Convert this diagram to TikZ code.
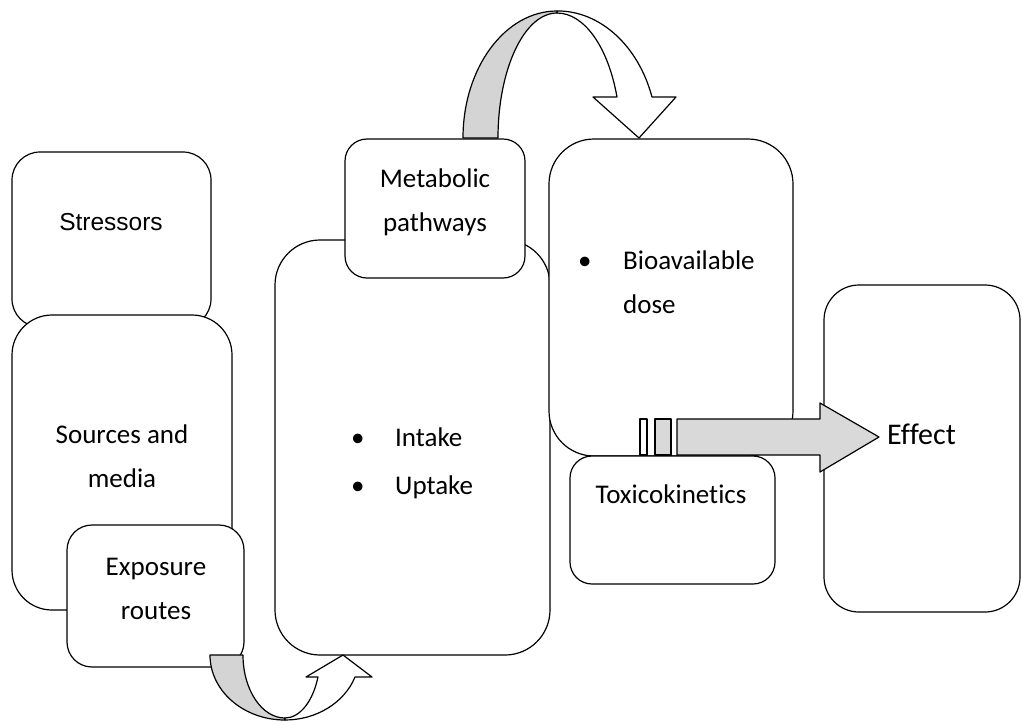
\documentclass[tikz,border=0pt]{standalone}
\usepackage{fontspec}
\setmainfont[Ligatures=NoCommon]{Carlito}
\newfontfamily\arialfont{Liberation Sans}
\usepackage{tikz}
\usetikzlibrary{positioning}
\definecolor{bandgray}{HTML}{D4D4D4}
\definecolor{shaftgray}{HTML}{D9D9D9}

\begin{document}
\begin{tikzpicture}[
  x=1pt, y=-1pt,
  font=\fontsize{27}{44}\selectfont,
  box/.style={draw, fill=white, line width=1.2pt, inner sep=0pt, outer sep=0pt},
  lbl/.style={inner sep=0pt, align=center},
  band/.style={draw, line width=1.2pt, line join=round},
]
  \useasboundingbox (0,0) rectangle (1022,724);

  % boxes, back to front
  \node[box, rounded corners=28pt, minimum width=199pt, minimum height=175pt] (stress) at (111.5,239.5) {};
  \node[box, rounded corners=40pt, minimum width=220pt, minimum height=295pt] (sources) at (122,462.5) {};
  \node[box, rounded corners=25pt, minimum width=177pt, minimum height=142pt] (expo) at (155.5,596) {};
  \node[box, rounded corners=45pt, minimum width=275pt, minimum height=415pt] (intake) at (412.5,447.5) {};
  \node[box, rounded corners=22pt, minimum width=180pt, minimum height=139pt] (metab) at (435,208.5) {};
  \node[box, rounded corners=45pt, minimum width=244pt, minimum height=317pt] (bio) at (671,297.5) {};
  \node[box, rounded corners=22pt, minimum width=205pt, minimum height=128pt] (toxi) at (672.5,520) {};
  \node[box, rounded corners=35pt, minimum width=196pt, minimum height=327pt] (effect) at (922,448.5) {};

  % labels
  \node[lbl, font=\arialfont\fontsize{24.5}{30}\selectfont] (stresstxt) at (111,222) {Stressors};
  \node[lbl] (sourcestxt) at (122,456) {Sources and\\media};
  \node[lbl] (expotxt) at (156,589) {Exposure\\routes};
  \node[lbl] (metabtxt) at (435,202) {Metabolic\\pathways};
  \node[lbl, align=left, anchor=west, font=\fontsize{27}{48}\selectfont] (intaketxt) at (351,463)
    {\makebox[44pt][l]{\textbullet}Intake\\\makebox[44pt][l]{\textbullet}Uptake};
  \node[lbl, align=left, anchor=west] (biotxt) at (578,282)
    {\makebox[45pt][l]{\textbullet}Bioavailable\\\hspace*{45pt}dose};
  \node[lbl] (toxitxt) at (671,494) {Toxicokinetics};
  \node[lbl, anchor=west, font=\fontsize{30}{36}\selectfont] (effecttxt) at (887,434) {Effect};

  % curved arrow: metabolic pathways -> bioavailable dose
  \draw[band, fill=white] (557,13) arc[start angle=270, end angle=340.85, x radius=63.5, y radius=125]
    -- (593,97) -- (639,138) -- (676,97) -- (652,97)
    arc[start angle=341.2, end angle=270, x radius=100, y radius=127] -- cycle;
  \draw[band, fill=bandgray] (463,138) arc[start angle=180, end angle=270, x radius=94, y radius=127]
    -- (557,13) arc[start angle=270, end angle=180, x radius=59, y radius=125] -- cycle;

  % curved arrow: exposure routes -> intake
  \draw[band, fill=bandgray] (210,655) arc[start angle=180, end angle=90, x radius=75, y radius=65]
    -- (285,718) arc[start angle=90, end angle=180, x radius=42, y radius=63] -- cycle;
  \draw[band, fill=white] (285,718) arc[start angle=90, end angle=20.4, x radius=35.2, y radius=63]
    -- (306,677) -- (343,655) -- (372,677) -- (355,677)
    arc[start angle=19.8, end angle=90, x radius=74.4, y radius=65] -- cycle;

  % striped arrow: toxicokinetics -> effect
  \draw[band, fill=white] (640,419) rectangle (647,455);
  \draw[band, fill=shaftgray] (655,419) rectangle (671,455);
  \draw[band, fill=shaftgray] (677,419) -- (820,419) -- (820,403) -- (879,437)
    -- (820,472) -- (820,455) -- (677,455) -- cycle;
\end{tikzpicture}
\end{document}
